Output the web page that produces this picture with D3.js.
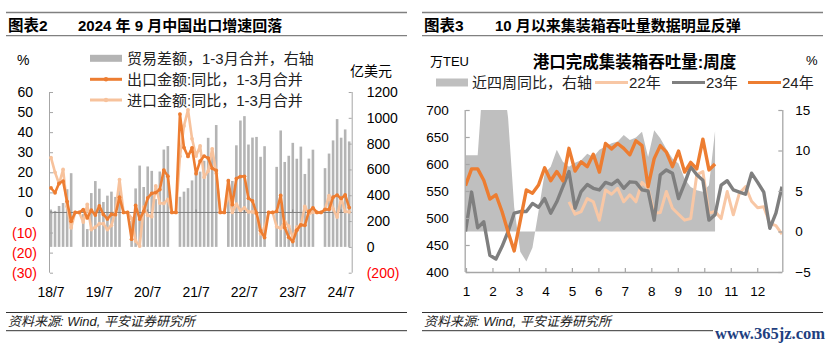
<!DOCTYPE html>
<html><head><meta charset="utf-8">
<script src="https://cdnjs.cloudflare.com/ajax/libs/d3/7.8.5/d3.min.js"></script>
<style>
body{margin:0;background:#fff}
svg{display:block}
text{font-family:"Liberation Sans","Noto Sans CJK SC",sans-serif;fill:#000}
</style></head>
<body><svg id="c" width="837" height="348"></svg>
<script>
// ================= DATA: left chart (monthly, 2018-07 .. 2024-09) =================
const startYear = 2018, startMonth = 7, monthCount = 75;
const months = [];
for (let k = 0; k < monthCount; k++) {
  const m0 = startMonth - 1 + k;
  months.push((startYear + Math.floor(m0 / 12)) + "-" + String(m0 % 12 + 1).padStart(2, "0"));
}
const xTickLabels = ["18/7", "19/7", "20/7", "21/7", "22/7", "23/7", "24/7"];
const xTickMonths = ["2018-07", "2019-07", "2020-07", "2021-07", "2022-07", "2023-07", "2024-07"];
const leftTicks = [60, 50, 40, 30, 20, 10, 0, -10, -20, -30];
const rightTicks = [1200, 1000, 800, 600, 400, 200, 0, -200];

// 出口金额:同比 (%), Jan/Feb plotted as 0, Mar = Q1 combined
const exportYoY = [
  12.2, 9.8, 14.5, 15.6, 5.4, -4.4,
  0, 0, 1.4, -2.7, 1.1, -1.3, 3.3, -1.0, -3.2, -0.9, -1.1, 7.6,
  0, 0, -13.3, 3.5, -3.3, 0.5, 7.2, 9.5, 9.9, 11.4, 21.1, 18.1,
  0, 0, 49.0, 32.3, 27.9, 32.2, 19.3, 25.6, 28.1, 27.1, 22.0, 20.9,
  0, 0, 15.8, 3.9, 16.9, 17.9, 18.0, 7.1, 5.7, -0.3, -9.0, -12.5,
  0, 0, 0.5, 8.5, -7.5, -12.4, -14.5, -8.8, -6.2, -6.4, 0.5, 2.3,
  0, 0, 1.5, 1.5, 7.6, 8.6, 7.0, 8.7, 2.4
];
// 进口金额:同比 (%)
const importYoY = [
  27.3, 20.0, 14.3, 21.4, 3.0, -7.6,
  0, 0, -4.8, 4.0, -8.5, -7.3, -5.6, -5.6, -8.5, -6.4, 0.3, 16.3,
  0, 0, -2.9, -14.2, -16.7, 2.7, -1.4, -2.1, 13.2, 4.7, 4.5, 6.5,
  0, 0, 28.0, 43.1, 51.1, 36.7, 28.1, 33.1, 17.6, 20.6, 31.7, 19.5,
  0, 0, 9.6, 0.0, 4.1, 1.0, 2.3, 0.3, 0.3, -0.7, -10.6, -7.5,
  0, 0, -7.1, -7.9, -4.5, -6.8, -12.4, -7.3, -6.2, 3.0, -0.6, 0.2,
  0, 0, 1.5, 8.4, 1.8, -2.3, 7.2, 0.5, 0.3
];
// 贸易差额 (亿美元), right axis, no bar for Jan/Feb
const tradeBalance = [
  280, 279, 317, 340, 447, 571,
  null, null, 254, 138, 417, 510, 451, 348, 397, 428, 387, 468,
  null, null, 200, 453, 630, 464, 623, 589, 370, 584, 754, 781,
  null, null, 388, 428, 455, 515, 565, 583, 667, 845, 717, 944,
  null, null, 527, 511, 787, 979, 1013, 793, 847, 852, 698, 780,
  null, null, 620, 902, 658, 706, 806, 683, 777, 565, 684, 753,
  null, null, 610, 723, 825, 990, 846, 910, 817
];

// ================= DATA: right chart (weekly) =================
const monthLabels = ["1","2","3","4","5","6","7","8","9","10","11","12"];
const portLeftTicks = [700, 650, 600, 550, 500, 450, 400];
const portRightTicks = [15, 10, 5, 0, -5];
// 近四周同比 (%), right axis
const yoy4w = [9.4, 9.4, 9.4, 20, 20, 20, 20, 14, 3, -2.5, -3.7, -2, 2.5, 7.2, 8.0, 10.1, 8.6, 8.0, 8.5, 8.8,
  9.6, 9.2, 10.1, 10.5, 10.9, 11.1, 11.9, 11.3, 11.6, 12.3, 9.2, 12.5, 11.5, 10.2, 9.0, 8.4, 6.5, 5.5, 5.1, 4.9,
  5.7, 12.4];
// 万TEU
const y24 = [560, 591, 591, 570, 535, 543, 512, 474, 439, 495, 552, 546, 561, 593, 569, 586, 569, 629, 587, 604,
  595, 618, 585, 638, 628, 638, 629, 617, 643, 634, 558, 610, 634, 622, 595, 624, 585, 603, 591, 646,
  589, 600];
const y23 = [475, 548, 482, 493, 431, 424, 447, 475, 509, 512, 512, 527, 520, 536, 509, 530, 558, 586, 518, 549,
  562, 555, 552, 566, 562, 570, 555, 567, 566, 552, 550, 496, 580, 589, 583, 536, 564, 595, 580, 570,
  496, 506, 561, 569, 552, 548, 544, 583, 566, 548, 481, 509, 558];
const y22 = [null, null, null, null, null, null, null, null, null, null, null, null, null, null, null, null, null,
  530, 507, 512, 536, 530, 496, 552, 544, 555, 530, 543, 530, 566, 555, 509, 510, 549, 518, 507, 496, 499,
  580, 586, 509, 512, 499, 549, 506, 546, 558, 531, 519, 521, 490, 486, 470];

// ================= DRAW =================
const svg = d3.select("#c");
const RULE = "#808080";
const AX = "#a6a6a6";

function frame(x0, x1, tag, title, titleX) {
  [12.5, 35.7].forEach(y => svg.append("line").attr("x1", x0).attr("x2", x1).attr("y1", y).attr("y2", y)
    .attr("stroke", RULE).attr("stroke-width", 1.3));
  svg.append("text").attr("x", x0 + 2).attr("y", 25).attr("dominant-baseline", "central")
    .attr("font-size", 15.5).attr("font-weight", "bold").text(tag);
  svg.append("text").attr("x", titleX).attr("y", 25).attr("dominant-baseline", "central")
    .attr("font-size", 15).attr("font-weight", "bold").text(title);
  [312.5, 330.7].forEach(y => svg.append("line").attr("x1", x0).attr("x2", x1).attr("y1", y).attr("y2", y)
    .attr("stroke", "#333").attr("stroke-width", 1));
  svg.append("text").attr("x", x0 + 2).attr("y", 321.7).attr("dominant-baseline", "central")
    .attr("font-size", 13).attr("font-style", "italic").style("fill", "#222").text("资料来源: Wind, 平安证券研究所");
}
frame(6, 407, "图表2", "2024 年 9 月中国出口增速回落", 78);
frame(422, 823, "图表3", "10 月以来集装箱吞吐量数据明显反弹", 495);

// ---------- LEFT CHART ----------
const gL = svg.append("g");
const xL = d3.scaleLinear().domain([0, monthCount - 1]).range([51, 349.2]);
const yL = d3.scaleLinear().domain([-30, 60]).range([272.7, 92]);
const yR = d3.scaleLinear().domain([-200, 1200]).range([272.7, 92]);
const idx = d3.range(monthCount);

// bars
gL.append("g").selectAll("rect").data(idx.filter(i => tradeBalance[i] != null)).join("rect")
  .attr("x", i => xL(i) - 1.3).attr("width", 2.6)
  .attr("y", i => Math.min(yR(tradeBalance[i]), yR(0)))
  .attr("height", i => Math.abs(yR(0) - yR(tradeBalance[i])))
  .attr("fill", "#b4b4b4");

// zero line
gL.append("line").attr("x1", 50).attr("x2", 351.7).attr("y1", yL(0)).attr("y2", yL(0))
  .attr("stroke", "#7f7f7f").attr("stroke-width", 1);

// x ticks on the zero line
gL.append("g").selectAll("line").data(xTickMonths).join("line")
  .attr("x1", d => xL(months.indexOf(d))).attr("x2", d => xL(months.indexOf(d)))
  .attr("y1", yL(0)).attr("y2", yL(0) - 3).attr("stroke", "#7f7f7f");

// left axis
const axL = gL.append("g").attr("transform", "translate(50,0)")
  .call(d3.axisLeft(yL).tickValues(leftTicks).tickSize(-3).tickPadding(17)
    .tickFormat(d => d < 0 ? "(" + (-d) + ")" : String(d)));
axL.select(".domain").attr("stroke", AX).attr("d", "M-0.5," + yL(60) + "V" + yL(-30));
axL.selectAll(".tick line").attr("stroke", AX);
axL.selectAll(".tick text").attr("font-size", 14).attr("font-family", null)
  .style("fill", d => d < 0 ? "#ff0000" : "#000").attr("dx", d => d < 0 ? 4 : 0);

// right axis
const axR = gL.append("g").attr("transform", "translate(351.7,0)")
  .call(d3.axisRight(yR).tickValues(rightTicks).tickSize(-3).tickPadding(15)
    .tickFormat(d => d < 0 ? "(" + (-d) + ")" : String(d)));
axR.select(".domain").attr("stroke", AX).attr("d", "M0.5," + yR(1200) + "V" + yR(-200));
axR.selectAll(".tick line").attr("stroke", AX);
axR.selectAll(".tick text").attr("font-size", 14).attr("font-family", null)
  .style("fill", d => d < 0 ? "#ff0000" : "#000");

// x labels
gL.append("g").selectAll("text").data(xTickLabels).join("text")
  .attr("x", (d, k) => xL(months.indexOf(xTickMonths[k]))).attr("y", 291.7)
  .attr("text-anchor", "middle").attr("dominant-baseline", "central").attr("font-size", 14).text(d => d);

// lines
const EXP = "#ed7d31", IMP = "#f7c29c";
function drawSeries(vals, color) {
  const line = d3.line().x(i => xL(i)).y(i => yL(vals[i]));
  gL.append("path").attr("d", line(idx)).attr("fill", "none").attr("stroke", color)
    .attr("stroke-width", 2.6).attr("stroke-linejoin", "round");
  gL.append("g").selectAll("circle").data(idx).join("circle")
    .attr("cx", i => xL(i)).attr("cy", i => yL(vals[i])).attr("r", 1.9).attr("fill", color);
}
drawSeries(importYoY, IMP);
drawSeries(exportYoY, EXP);

// labels & legend
gL.append("text").attr("x", 17).attr("y", 60).attr("dominant-baseline", "central").attr("font-size", 14).text("%");
gL.append("text").attr("x", 350).attr("y", 71).attr("dominant-baseline", "central").attr("font-size", 14).text("亿美元");
const legL = [
  {t: "贸易差额，1-3月合并，右轴", type: "bar", c: "#b4b4b4", y: 58.3},
  {t: "出口金额:同比，1-3月合并", type: "line", c: EXP, y: 79.3},
  {t: "进口金额:同比，1-3月合并", type: "line", c: IMP, y: 100}
];
legL.forEach(d => {
  if (d.type === "bar") {
    gL.append("rect").attr("x", 90).attr("y", d.y - 3.5).attr("width", 32).attr("height", 7).attr("fill", d.c);
  } else {
    gL.append("line").attr("x1", 90).attr("x2", 122).attr("y1", d.y).attr("y2", d.y)
      .attr("stroke", d.c).attr("stroke-width", 3);
    gL.append("circle").attr("cx", 106).attr("cy", d.y).attr("r", 2.2).attr("fill", d.c);
  }
  gL.append("text").attr("x", 127).attr("y", d.y).attr("dominant-baseline", "central")
    .attr("font-size", 15).style("fill", "#222").text(d.t);
});

// ---------- RIGHT CHART ----------
const gR = svg.append("g");
const xW = d3.scaleLinear().domain([0, 52]).range([465.5, 782]);
const yP = d3.scaleLinear().domain([400, 700]).range([272, 110]);
const yQ = d3.scaleLinear().domain([-5, 15]).range([272, 110]);
const monthWeek = monthLabels.map((m, k) => 0.08 + k * 4.35);

svg.append("defs").append("clipPath").attr("id", "pc").append("rect")
  .attr("x", 465.5).attr("y", 110).attr("width", 317).attr("height", 162);

gR.append("path").attr("clip-path", "url(#pc)")
  .attr("d", d3.area().x((d, i) => xW(i)).y0(yQ(0)).y1(d => yQ(d))(yoy4w))
  .attr("fill", "#bfbfbf");

function weekLine(vals, color, w) {
  gR.append("path").attr("clip-path", "url(#pc)")
    .attr("d", d3.line().defined(d => d != null).x((d, i) => xW(i)).y(d => yP(d))(vals))
    .attr("fill", "none").attr("stroke", color).attr("stroke-width", w).attr("stroke-linejoin", "round");
}
const C22 = "#f8c7a5", C23 = "#7f7f7f", C24 = "#ed7d31";
weekLine(y22, C22, 3);
weekLine(y23, C23, 3.4);
weekLine(y24, C24, 3.4);

// axes
const axPL = gR.append("g").attr("transform", "translate(465.7,0)")
  .call(d3.axisLeft(yP).tickValues(portLeftTicks).tickSize(-4).tickPadding(17));
const axPR = gR.append("g").attr("transform", "translate(782.3,0)")
  .call(d3.axisRight(yQ).tickValues(portRightTicks).tickSize(-4).tickPadding(13));
const axPB = gR.append("g").attr("transform", "translate(0,272)")
  .call(d3.axisBottom(xW).tickValues(monthWeek).tickSize(-4).tickPadding(14)
    .tickFormat((d, k) => monthLabels[k]));
[axPL, axPR, axPB].forEach(a => {
  a.select(".domain").attr("stroke", AX).attr("stroke-width", 1.3);
  a.selectAll(".tick line").attr("stroke", AX).attr("stroke-width", 1.2);
  a.selectAll(".tick text").attr("font-size", 13.5).attr("font-family", null).style("fill", "#000");
});
axPB.select(".domain").attr("d", "M465.7,0.5H782.3");
axPL.select(".domain").attr("d", "M-0.5,110V272");
axPR.select(".domain").attr("d", "M0.5,110V272");

gR.append("text").attr("x", 430).attr("y", 61.5).attr("dominant-baseline", "central").attr("font-size", 13).text("万TEU");
gR.append("text").attr("x", 634.5).attr("y", 61.5).attr("text-anchor", "middle").attr("dominant-baseline", "central")
  .attr("font-size", 16.5).attr("font-weight", "bold").text("港口完成集装箱吞吐量:周度");
gR.append("text").attr("x", 806).attr("y", 60).attr("dominant-baseline", "central").attr("font-size", 13).text("%");

const legR = [
  {t: "近四周同比，右轴", type: "area", c: "#bfbfbf", x: 436, tx: 472},
  {t: "22年", type: "line", c: C22, x: 595, tx: 629},
  {t: "23年", type: "line", c: C23, x: 672, tx: 706},
  {t: "24年", type: "line", c: C24, x: 748, tx: 782}
];
const legY = 82.5;
legR.forEach(d => {
  if (d.type === "area") gR.append("rect").attr("x", d.x).attr("y", legY - 4).attr("width", 32).attr("height", 8).attr("fill", d.c);
  else gR.append("line").attr("x1", d.x).attr("x2", d.x + 33).attr("y1", legY).attr("y2", legY)
    .attr("stroke", d.c).attr("stroke-width", 3.2);
  gR.append("text").attr("x", d.tx).attr("y", legY).attr("dominant-baseline", "central")
    .attr("font-size", 15).style("fill", "#222").text(d.t);
});

// watermark
svg.append("rect").attr("x", 713).attr("y", 325).attr("width", 118).attr("height", 18).attr("fill", "#fff");
svg.append("text").attr("x", 715).attr("y", 333).attr("dominant-baseline", "central")
  .style("font-family", "'Liberation Serif','DejaVu Serif',serif").attr("font-weight", "bold")
  .attr("font-size", 16.5).style("fill", "#1f3f80").text("www.365jz.com");
</script>
</body></html>
